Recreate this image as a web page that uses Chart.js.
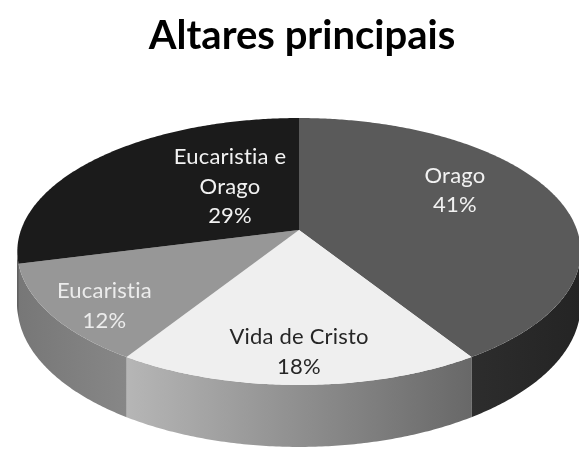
<!DOCTYPE html>
<html>
<head>
<meta charset="utf-8">
<title>Altares principais</title>
<script src="https://cdn.jsdelivr.net/npm/chart.js@4.4.1/dist/chart.umd.min.js"></script>
<style>
  html, body { margin: 0; padding: 0; background: #ffffff; }
  #wrap { width: 579px; height: 450px; }
</style>
</head>
<body>
<div id="wrap"><canvas id="chart" width="579" height="450"></canvas></div>
<script>
// Altar dedications (share of main altars, %)
const categories = ['Orago', 'Vida de Cristo', 'Eucaristia', 'Eucaristia e Orago'];
const shares = [41, 18, 12, 29];

// Colours of the top faces, the outer walls (left -> right) and the labels
const topColors = ['#5a5a5a', '#efefef', '#979797', '#1b1b1b'];
const wallColors = [['#2d2d2d', '#242424'], ['#b6b6b6', '#686868'], ['#777777', '#878787'], ['#161616', '#161616']];
const labelColors = ['#f2f2f2', '#262626', '#ececec', '#f2f2f2'];

// Tilted disc seen in perspective: centre, half-axes, tilt and wall height
const VIEW = { cx: 299, cy: 230, ax: 278, by: 130, tilt: 0.161, depth: 52 };
// Label anchors: fraction of the radius along each slice's middle, plus a vertical nudge
const LABEL_POS = [[0.6, -19], [0.81, 0], [0.8, 9], [0.324, -19]];

function project(u, v) {
  const d = 1 - VIEW.tilt * v;
  return { x: VIEW.cx + VIEW.ax * u / d, y: VIEW.cy + VIEW.by * v / d, d: d };
}

function rimPoints(a1, a2) {
  const pts = [];
  const n = Math.max(2, Math.ceil((a2 - a1) / 0.01));
  for (let s = 0; s <= n; s++) {
    const a = a1 + (a2 - a1) * s / n;
    pts.push(project(Math.cos(a), Math.sin(a)));
  }
  return pts;
}

function wrapWords(ctx, text, maxWidth) {
  const words = text.split(' ');
  const lines = [];
  let cur = '';
  words.forEach(w => {
    const test = cur ? cur + ' ' + w : w;
    if (cur && ctx.measureText(test).width > maxWidth) { lines.push(cur); cur = w; }
    else cur = test;
  });
  if (cur) lines.push(cur);
  return lines;
}

// Draws the pie as a tilted 3D disc, using the slice angles laid out by Chart.js
const pie3d = {
  id: 'pie3d',
  beforeDatasetsDraw(chart) {
    const ctx = chart.ctx;
    const meta = chart.getDatasetMeta(0);
    const arcs = meta.data;
    const values = chart.data.datasets[0].data;
    const total = values.reduce((s, v) => s + v, 0);
    const lo = Math.asin(VIEW.tilt), hi = Math.PI - lo;

    ctx.save();
    // outer walls on the front half
    arcs.forEach((arc, i) => {
      const a1 = Math.max(arc.startAngle, lo);
      const a2 = Math.min(arc.endAngle, hi);
      if (a2 <= a1) return;
      const top = rimPoints(a1, a2);
      const xs = top.map(p => p.x);
      const g = ctx.createLinearGradient(Math.min(...xs), 0, Math.max(...xs), 0);
      g.addColorStop(0, wallColors[i][0]);
      g.addColorStop(1, wallColors[i][1]);
      ctx.beginPath();
      top.forEach((p, k) => k ? ctx.lineTo(p.x, p.y) : ctx.moveTo(p.x, p.y));
      for (let k = top.length - 1; k >= 0; k--) {
        ctx.lineTo(top[k].x, top[k].y + VIEW.depth / top[k].d);
      }
      ctx.closePath();
      ctx.fillStyle = g;
      ctx.fill();
    });

    // top faces
    const c = project(0, 0);
    arcs.forEach((arc, i) => {
      const pts = rimPoints(arc.startAngle, arc.endAngle);
      ctx.beginPath();
      ctx.moveTo(c.x, c.y);
      pts.forEach(p => ctx.lineTo(p.x, p.y));
      ctx.closePath();
      ctx.fillStyle = topColors[i];
      ctx.fill();
    });

    // data labels: category and percentage
    const size = 22, lineH = 29.5;
    ctx.font = size + 'px Lato';
    ctx.letterSpacing = '0.2px';
    ctx.textAlign = 'center';
    ctx.textBaseline = 'alphabetic';
    arcs.forEach((arc, i) => {
      const mid = (arc.startAngle + arc.endAngle) / 2;
      const f = LABEL_POS[i][0];
      const p = project(f * Math.cos(mid), f * Math.sin(mid));
      const lines = wrapWords(ctx, chart.data.labels[i], 155);
      lines.push(Math.round(values[i] / total * 100) + '%');
      const cy = p.y + LABEL_POS[i][1];
      const y0 = cy - (lines.length - 1) * lineH / 2;
      ctx.fillStyle = labelColors[i];
      lines.forEach((t, k) => ctx.fillText(t, p.x, y0 + k * lineH + 0.36 * size));
    });
    ctx.restore();
    return false;
  }
};

new Chart(document.getElementById('chart'), {
  type: 'pie',
  data: {
    labels: categories,
    datasets: [{ data: shares, backgroundColor: topColors, borderWidth: 0 }]
  },
  options: {
    responsive: false,
    animation: false,
    events: [],
    layout: { padding: { left: 25 } },
    plugins: {
      legend: { display: false },
      tooltip: { enabled: false },
      title: {
        display: true,
        text: 'Altares principais',
        color: '#000000',
        font: { family: 'Lato', size: 40, weight: 'bold' },
        padding: { top: 12, bottom: 10 }
      }
    }
  },
  plugins: [pie3d]
});
</script>
</body>
</html>
